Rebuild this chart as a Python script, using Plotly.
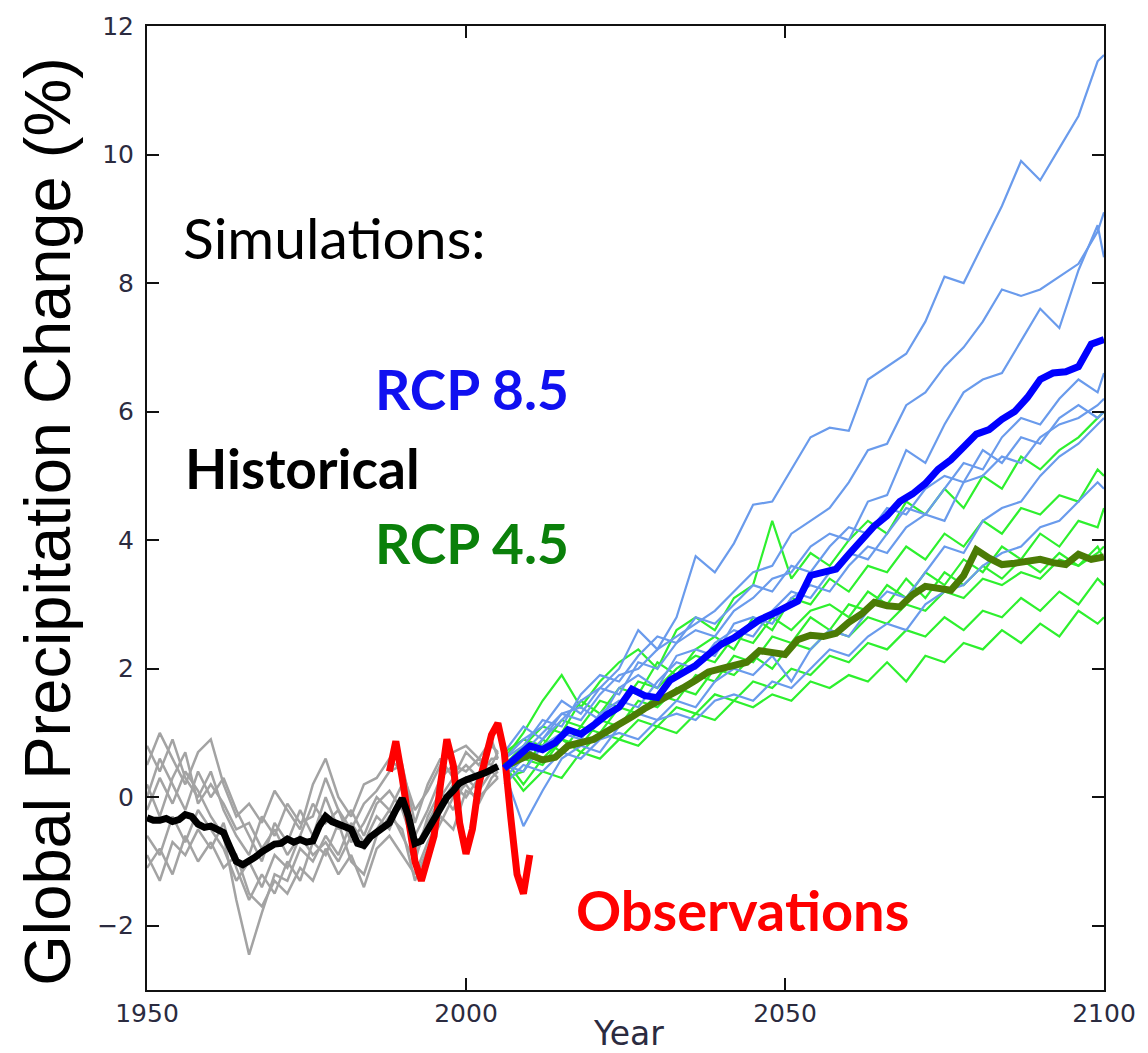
import plotly.graph_objects as go

# ---------------- data ----------------
HIST_YEARS = list(range(1950, 2006))
HIST_MEAN = [-0.32, -0.36, -0.36, -0.33, -0.38, -0.35, -0.27, -0.30, -0.42, -0.47,
             -0.45, -0.50, -0.55, -0.78, -1.00, -1.05, -1.00, -0.93, -0.85, -0.78,
             -0.73, -0.72, -0.65, -0.70, -0.66, -0.70, -0.68, -0.45, -0.30, -0.38,
             -0.42, -0.47, -0.50, -0.72, -0.75, -0.62, -0.55, -0.50, -0.40, -0.20,
             -0.02, -0.30, -0.72, -0.68, -0.50, -0.35, -0.15, 0.00, 0.10, 0.22,
             0.27, 0.30, 0.33, 0.38, 0.43, 0.48]

HIST_MEMBER_YEARS = [1950, 1952, 1954, 1956, 1958, 1960, 1962, 1964, 1966, 1968,
                     1970, 1972, 1974, 1976, 1978, 1980, 1982, 1984, 1986, 1988,
                     1990, 1992, 1994, 1996, 1998, 2000, 2002, 2004, 2005]
HIST_MEMBERS = [
    [0.5, 1.0, 0.6, 0.2, 0.7, 0.9, 0.2, -0.3, -0.1, -0.4, 0.1, -0.2, -0.5, 0.2, 0.6,
     0.0, -0.3, 0.2, 0.3, 0.6, 0.4, -0.2, 0.1, 0.5, 0.7, 0.8, 0.6, 0.9, 0.6],
    [-0.2, 0.3, -0.1, 0.4, 0.1, -0.3, -0.6, -1.6, -2.45, -1.8, -1.2, -1.3, -0.8, -1.0, -0.6,
     -0.9, -0.4, -0.7, -0.3, -0.5, 0.0, -0.9, -0.5, -0.1, 0.2, 0.0, 0.3, 0.4, 0.5],
    [-0.9, -1.3, -0.7, -0.9, -0.5, -0.8, -0.4, -1.1, -1.6, -1.2, -1.5, -1.0, -1.3, -0.7, -0.9,
     -0.4, -1.0, -1.2, -0.6, -0.3, -0.5, -1.3, -0.8, -0.4, 0.0, 0.2, -0.1, 0.3, 0.4],
    [0.8, 0.4, 0.9, 0.3, 0.0, 0.4, -0.2, -0.6, -0.9, -0.3, -0.6, -0.1, -0.4, -0.3, 0.3,
     -0.2, -0.5, -0.1, 0.1, 0.4, 0.5, -0.4, 0.2, 0.6, 0.3, 0.7, 0.5, 0.8, 0.7],
    [-0.6, -0.9, -0.3, -0.7, -0.2, -0.5, -0.8, -1.3, -1.0, -1.4, -0.9, -1.1, -0.6, -0.9, -0.7,
     -1.0, -0.6, -0.8, -0.5, -0.2, -0.6, -1.0, -0.3, 0.1, -0.2, 0.3, 0.1, 0.4, 0.3],
    [0.2, -0.3, 0.3, 0.7, -0.1, 0.2, -0.1, -0.5, -0.4, -0.8, -0.5, -0.9, -0.6, -0.1, -0.4,
     -0.2, -0.7, -0.4, 0.0, -0.2, 0.2, -0.6, -0.2, 0.3, 0.5, 0.4, 0.6, 0.5, 0.7],
    [-1.1, -0.8, -1.2, -0.6, -1.0, -0.7, -1.1, -0.9, -1.5, -1.7, -1.3, -1.5, -1.1, -1.3, -0.8,
     -1.2, -0.9, -1.4, -0.8, -0.6, -0.9, -1.2, -0.7, -0.3, -0.5, 0.1, 0.0, 0.2, 0.3],
    [0.0, 0.6, 0.2, -0.2, 0.4, 0.0, 0.3, -0.2, -0.6, -1.0, -0.4, -0.7, -0.2, -0.6, 0.0,
     -0.5, -0.2, -0.6, -0.1, 0.1, -0.2, -0.8, -0.4, 0.0, 0.3, 0.5, 0.3, 0.6, 0.6],
]

OBS_YEARS = list(range(1988, 2011))
OBS = [0.40, 0.87, 0.30, -0.40, -1.00, -1.30, -0.90, -0.60, 0.20, 0.90,
       0.50, -0.40, -0.88, -0.50, 0.20, 0.60, 0.97, 1.15, 0.70, -0.30,
       -1.20, -1.50, -0.90]

FUT_MEAN_YEARS = list(range(2006, 2101, 2))
RCP85_MEAN = [0.45, 0.62, 0.80, 0.74, 0.85, 1.05, 0.98, 1.12, 1.28, 1.40,
              1.68, 1.58, 1.55, 1.82, 1.95, 2.05, 2.22, 2.38, 2.48, 2.62,
              2.76, 2.85, 2.95, 3.05, 3.45, 3.50, 3.55, 3.78, 4.02, 4.22,
              4.38, 4.60, 4.72, 4.88, 5.10, 5.25, 5.45, 5.65, 5.72, 5.88,
              6.00, 6.22, 6.50, 6.60, 6.62, 6.70, 7.05, 7.12]
RCP45_MEAN = [0.48, 0.58, 0.66, 0.58, 0.62, 0.80, 0.84, 0.90, 1.02, 1.12,
              1.25, 1.38, 1.48, 1.60, 1.70, 1.82, 1.95, 2.00, 2.06, 2.10,
              2.28, 2.25, 2.22, 2.45, 2.52, 2.50, 2.55, 2.72, 2.85, 3.03,
              2.98, 2.96, 3.15, 3.28, 3.25, 3.22, 3.45, 3.85, 3.72, 3.62,
              3.64, 3.68, 3.70, 3.65, 3.62, 3.78, 3.70, 3.74]

FUT_MEMBER_YEARS = [2006, 2009, 2012, 2015, 2018, 2021, 2024, 2027, 2030, 2033,
                    2036, 2039, 2042, 2045, 2048, 2051, 2054, 2057, 2060, 2063,
                    2066, 2069, 2072, 2075, 2078, 2081, 2084, 2087, 2090, 2093,
                    2096, 2099, 2100]
RCP85_MEMBERS = [
    [0.6, 0.9, 1.1, 1.5, 1.3, 1.7, 2.0, 2.6, 2.3, 2.8, 3.75, 3.5, 3.95, 4.55, 4.6, 5.1, 5.6,
     5.75, 5.7, 6.5, 6.7, 6.9, 7.4, 8.1, 8.0, 8.6, 9.2, 9.9, 9.6, 10.1, 10.6, 11.45, 11.55],
    [0.5, 0.7, 1.0, 1.3, 1.2, 1.6, 1.9, 2.0, 2.3, 2.5, 2.7, 2.9, 3.2, 3.5, 3.6, 4.1, 4.3,
     4.5, 4.9, 5.4, 5.5, 6.1, 6.3, 6.7, 7.0, 7.4, 7.9, 7.8, 7.9, 8.1, 8.3, 8.8, 9.1],
    [0.3, 0.6, 0.9, 1.2, 1.5, 1.7, 1.6, 2.1, 2.0, 2.4, 2.6, 2.5, 2.9, 3.1, 3.4, 3.5, 3.9,
     4.1, 4.0, 4.6, 4.7, 5.4, 5.2, 5.8, 6.3, 6.5, 6.6, 7.1, 7.6, 7.3, 8.2, 8.9, 8.4],
    [0.5, 0.4, 0.8, 1.0, 0.9, 1.3, 1.5, 1.4, 1.8, 2.1, 2.0, 2.4, 2.6, 2.5, 2.9, 3.2, 3.1,
     3.5, 3.8, 3.7, 4.1, 4.5, 4.4, 4.8, 5.2, 5.1, 5.6, 5.9, 5.8, 6.2, 6.5, 6.3, 6.6],
    [0.7, 1.1, 0.9, 1.3, 1.4, 1.2, 1.7, 1.9, 1.7, 2.2, 2.3, 2.2, 2.7, 2.8, 2.7, 3.1, 3.3,
     3.2, 3.6, 3.9, 3.8, 4.2, 4.4, 4.3, 4.9, 5.0, 5.3, 5.2, 5.6, 5.8, 5.9, 6.1, 6.2],
    [0.4, -0.45, 0.1, 0.6, 0.8, 0.7, 1.1, 1.3, 1.2, 1.5, 1.4, 1.8, 2.0, 1.9, 2.2, 1.8, 2.3,
     2.6, 2.5, 2.9, 3.2, 3.1, 3.5, 3.9, 3.8, 4.3, 4.5, 4.6, 5.0, 5.3, 5.5, 5.8, 5.9],
    [0.2, 0.5, 0.4, 0.7, 0.6, 0.9, 1.0, 0.9, 1.2, 1.3, 1.2, 1.5, 1.6, 1.5, 1.8, 1.7, 2.0,
     2.3, 2.2, 2.5, 2.7, 2.6, 3.0, 3.2, 3.3, 3.6, 3.8, 3.9, 4.2, 4.3, 4.6, 4.9, 4.8],
    [0.6, 0.8, 1.2, 1.1, 1.6, 1.9, 1.8, 2.2, 2.5, 2.4, 2.8, 2.7, 3.0, 3.3, 3.2, 3.6, 3.5,
     3.9, 4.2, 4.1, 4.5, 4.4, 4.8, 5.0, 4.9, 5.4, 5.2, 5.6, 5.5, 5.9, 6.1, 5.9, 6.0],
]
RCP45_MEMBERS = [
    [0.6, 1.0, 1.5, 1.9, 1.4, 1.8, 2.1, 2.3, 2.0, 2.6, 2.8, 2.6, 3.1, 3.3, 4.3, 3.4, 3.8,
     3.6, 4.0, 4.3, 4.1, 4.6, 4.4, 4.8, 4.5, 5.0, 4.8, 5.3, 5.1, 5.4, 5.6, 5.9, 6.0],
    [0.5, 0.8, 1.1, 1.0, 1.5, 1.3, 1.7, 1.6, 2.1, 1.9, 2.3, 2.5, 2.3, 2.8, 2.6, 3.1, 3.0,
     3.4, 3.2, 3.6, 3.5, 3.9, 3.7, 4.1, 3.9, 4.3, 4.1, 4.5, 4.4, 4.7, 4.6, 5.1, 5.0],
    [0.3, 0.4, 0.9, 0.7, 1.1, 1.0, 1.4, 1.3, 1.6, 1.5, 1.9, 1.8, 2.2, 2.1, 2.5, 2.4, 2.8,
     2.6, 3.0, 2.9, 3.3, 3.1, 3.5, 3.3, 3.7, 3.5, 3.9, 3.7, 4.1, 3.9, 4.3, 4.2, 4.5],
    [0.6, 0.2, 0.6, 0.9, 0.8, 1.2, 1.1, 1.5, 1.4, 1.7, 1.6, 2.0, 1.9, 2.2, 2.0, 2.4, 2.3,
     2.6, 2.5, 2.8, 2.7, 3.0, 2.9, 3.2, 3.1, 3.4, 3.3, 3.5, 3.4, 3.7, 3.6, 3.8, 3.9],
    [0.4, 0.6, 0.5, 0.9, 0.7, 1.0, 0.9, 1.2, 1.1, 1.4, 1.3, 1.6, 1.5, 1.8, 1.7, 2.0, 1.9,
     2.2, 2.1, 2.4, 2.3, 2.6, 2.5, 2.8, 2.6, 2.9, 2.8, 3.1, 2.9, 3.2, 3.0, 3.4, 3.3],
    [0.5, 0.1, 0.4, 0.3, 0.7, 0.6, 0.9, 0.8, 1.1, 1.0, 1.3, 1.2, 1.5, 1.4, 1.6, 1.5, 1.8,
     1.7, 1.9, 1.8, 2.1, 1.8, 2.2, 2.1, 2.4, 2.3, 2.6, 2.4, 2.7, 2.5, 2.9, 2.7, 2.8],
    [0.7, 0.9, 0.8, 1.2, 1.1, 1.5, 1.4, 1.8, 1.7, 2.0, 2.2, 2.1, 2.5, 2.4, 2.8, 2.6, 2.9,
     3.0, 2.8, 3.2, 3.0, 3.4, 3.1, 3.5, 3.3, 3.6, 3.4, 3.7, 3.5, 3.8, 3.6, 3.9, 3.7],
]

X_TICKS = [1950, 2000, 2050, 2100]
Y_TICKS = [-2, 0, 2, 4, 6, 8, 10, 12]

# ---------------- figure ----------------
W, H = 1148, 1053
L, R, T, B = 147, 1107, 19, 990


def px_x(px):
    return (px - L) / (R - L)


def px_y(py):
    return (B - py) / (B - T)


fig = go.Figure()

for m in HIST_MEMBERS:
    fig.add_trace(go.Scatter(x=HIST_MEMBER_YEARS, y=m, mode="lines",
                             line=dict(color="#a3a3a3", width=2.5), hoverinfo="skip"))
for m in RCP45_MEMBERS:
    fig.add_trace(go.Scatter(x=FUT_MEMBER_YEARS, y=m, mode="lines",
                             line=dict(color="#2ef02e", width=2.2), hoverinfo="skip"))
for m in RCP85_MEMBERS:
    fig.add_trace(go.Scatter(x=FUT_MEMBER_YEARS, y=m, mode="lines",
                             line=dict(color="#6a9bec", width=2.2), hoverinfo="skip"))

fig.add_trace(go.Scatter(x=OBS_YEARS, y=OBS, mode="lines",
                         line=dict(color="#ff0000", width=7), hoverinfo="skip"))
fig.add_trace(go.Scatter(x=HIST_YEARS, y=HIST_MEAN, mode="lines",
                         line=dict(color="#000000", width=7), hoverinfo="skip"))
fig.add_trace(go.Scatter(x=FUT_MEAN_YEARS, y=RCP45_MEAN, mode="lines",
                         line=dict(color="#4b7b05", width=7), hoverinfo="skip"))
fig.add_trace(go.Scatter(x=FUT_MEAN_YEARS, y=RCP85_MEAN, mode="lines",
                         line=dict(color="#0000ff", width=7), hoverinfo="skip"))

axis_common = dict(showline=True, linecolor="#111111", linewidth=2, mirror="ticks",
                   ticks="inside", ticklen=12, tickwidth=1.5, tickcolor="#111111",
                   showgrid=False, zeroline=False,
                   tickfont=dict(family="DejaVu Sans", size=25, color="#2b2b40"))

fig.update_layout(
    width=W, height=H,
    margin=dict(l=L, r=W - R, t=T, b=H - B),
    paper_bgcolor="white", plot_bgcolor="white",
    showlegend=False,
    xaxis=dict(range=[1950, 2100], tickvals=X_TICKS, ticklabelstandoff=0, **axis_common),
    yaxis=dict(range=[-3, 12], tickvals=Y_TICKS, ticklabelstandoff=6, **axis_common),
)

ann_font = "Lato"
annotations = [
    dict(text="Simulations:", x=px_x(181), y=px_y(232), xanchor="left", yanchor="middle",
         font=dict(family=ann_font, size=57, color="#000000")),
    dict(text="<b>RCP 8.5</b>", x=px_x(572), y=px_y(385), xanchor="right", yanchor="middle",
         font=dict(family=ann_font, size=55, color="#1010f0")),
    dict(text="<b>Historical</b>", x=px_x(183), y=px_y(464), xanchor="left", yanchor="middle",
         font=dict(family=ann_font, size=55, color="#000000")),
    dict(text="<b>RCP 4.5</b>", x=px_x(572), y=px_y(540), xanchor="right", yanchor="middle",
         font=dict(family=ann_font, size=55, color="#0a800a")),
    dict(text="<b>Observations</b>", x=px_x(575), y=px_y(909), xanchor="left", yanchor="middle",
         font=dict(family=ann_font, size=56, color="#ff0000")),
    dict(text="Global Precipitation Change (%)", x=px_x(47), y=px_y(518), textangle=-90,
         xanchor="center", yanchor="middle",
         font=dict(family="Liberation Sans", size=65, color="#000000")),
    dict(text="Year", x=px_x(630), y=0, yshift=-(1033 - B), xanchor="center", yanchor="middle",
         font=dict(family="DejaVu Sans", size=33, color="#2b2b40")),
]
for a in annotations:
    a.update(xref="paper", yref="paper", showarrow=False)
fig.update_layout(annotations=annotations)

fig.write_html("out.html")
